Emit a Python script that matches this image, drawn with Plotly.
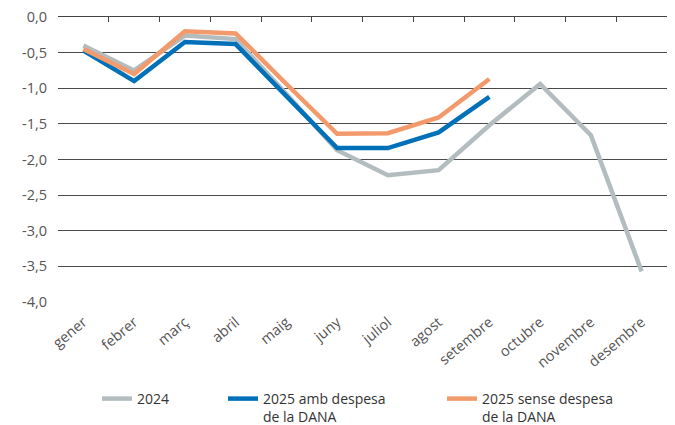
import plotly.graph_objects as go

months = ["gener", "febrer", "març", "abril", "maig", "juny", "juliol",
          "agost", "setembre", "octubre", "novembre", "desembre"]
s2024 = [-0.40, -0.75, -0.26, -0.31, -1.08, -1.87, -2.22, -2.15, -1.52, -0.94, -1.66, -3.57]
s2025_amb = [-0.47, -0.90, -0.35, -0.38, -1.11, -1.84, -1.84, -1.62, -1.12]
s2025_sense = [-0.45, -0.80, -0.20, -0.23, -0.94, -1.64, -1.63, -1.41, -0.87]
y_ticks = [0, -0.5, -1, -1.5, -2, -2.5, -3, -3.5, -4]
y_labels = ["0,0", "-0,5", "-1,0", "-1,5", "-2,0", "-2,5", "-3,0", "-3,5", "-4,0"]

names = ["2024", "2025 amb despesa<br>de la DANA", "2025 sense despesa<br>de la DANA"]
colors = ["#B3BDC0", "#0070B8", "#F39A6C"]
legend_ids = ["legend", "legend2", "legend3"]

FONT = "Open Sans"
OFF = 8  # page body offset
W, H = 675, 425
# target screen positions of the plot area
SL, SR, ST, SB = 58, 667, 17, 302
ML = SL - OFF
MR = W - (SR - OFF)
MT = ST - OFF
MB = H - (SB - OFF)
PW = W - ML - MR
PH = H - MT - MB

def px_x(p):
    return (p - OFF - ML) / PW

def px_y(p):
    return (H - MB - (p - OFF)) / PH

fig = go.Figure()
for nm, vals, col, lg in zip(names, [s2024, s2025_amb, s2025_sense], colors, legend_ids):
    fig.add_trace(go.Scatter(x=months[:len(vals)], y=vals, name=nm, mode="lines",
                             line=dict(color=col, width=4.5), legend=lg))
# invisible trace for top tick axis
fig.add_trace(go.Scatter(x=months, y=[None] * len(months), xaxis="x2",
                         showlegend=False, hoverinfo="skip", mode="lines"))

leg_text_x = [137, 263, 482]
leg_common = dict(orientation="h", yanchor="top", xanchor="left",
                  font=dict(size=14, color="#333333", family=FONT), valign="top",
                  bgcolor="rgba(0,0,0,0)", tracegroupgap=0)
legends = {}
for lg, tx in zip(legend_ids, leg_text_x):
    legends[lg] = dict(leg_common, x=px_x(tx - 40), y=px_y(383))

fig.update_layout(
    width=W, height=H,
    margin=dict(l=ML, r=MR, t=MT, b=MB, autoexpand=False),
    paper_bgcolor="white", plot_bgcolor="white",
    font=dict(family=FONT, size=14, color="#555555"),
    xaxis=dict(type="category", categoryorder="array", categoryarray=months,
               range=[-0.5, 11.5], showgrid=False, showline=False, ticks="",
               tickangle=-40, ticklabelstandoff=8, ticklabeloverflow="allow",
               tickfont=dict(size=14.5, color="#555555")),
    xaxis2=dict(type="category", categoryorder="array", categoryarray=months,
                range=[-0.5, 11.5], overlaying="x", side="top", anchor="y",
                showgrid=False, showline=True, linecolor="#444444", linewidth=1,
                ticks="inside", tickson="boundaries", ticklen=5, tickcolor="#444444",
                showticklabels=False),
    yaxis=dict(range=[-4, 0], tickvals=y_ticks, ticktext=y_labels,
               showgrid=True, gridcolor="#4a4a4a", gridwidth=1,
               zeroline=False, showline=False, ticks="", ticklabelstandoff=10,
               ticklabeloverflow="allow",
               tickfont=dict(size=14.5, color="#555555")),
    showlegend=True,
    **legends,
)

fig.write_html("out.html")
